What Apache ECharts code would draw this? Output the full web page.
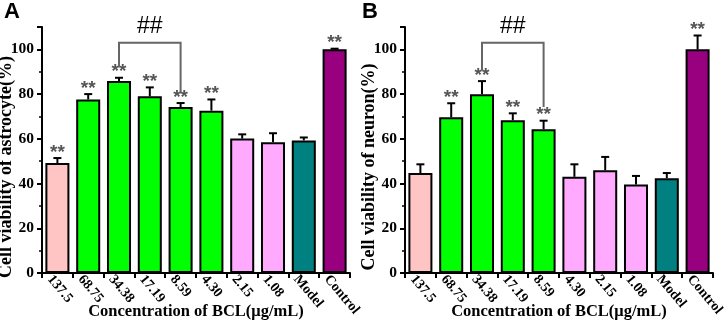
<!DOCTYPE html>
<html>
<head>
<meta charset="utf-8">
<script src="https://cdn.jsdelivr.net/npm/echarts@6/dist/echarts.min.js"></script>
<style>
  html, body { margin: 0; padding: 0; background: #fff; }
  #main { width: 726px; height: 325px; }
</style>
</head>
<body>
<div id="main"></div>
<script>
// categories (x axis)
var categories = ['137.5', '68.75', '34.38', '17.19', '8.59', '4.30', '2.15', '1.08', 'Model', 'Control'];

// panel A - astrocyte
var astroMean = [49.2, 77.6, 85.8, 79, 74.2, 72.6, 60.1, 58.5, 59.3, 100];
var astroErr  = [51.4, 80, 87.3, 83, 76, 77.6, 62, 62.5, 60.6, 100.3];
var astroStar = [1, 1, 1, 1, 1, 1, 0, 0, 0, 1];
var astroColors = ['#ffc4c4', '#00ff00', '#00ff00', '#00ff00', '#00ff00', '#00ff00', '#ffaaff', '#ffaaff', '#008080', '#990080'];
// bracket: [from, to, top, leftEnd, rightEnd]
var astroBracket = [2, 4, 103, 92, 80.4];

// panel B - neuron
var neuronMean = [44.7, 69.6, 79.9, 68.3, 64.3, 43, 45.9, 39.6, 42.4, 100];
var neuronErr  = [48.6, 75.9, 85.8, 71.4, 68.1, 48.6, 51.9, 43.4, 44.7, 106.2];
var neuronStar = [0, 1, 1, 1, 1, 0, 0, 0, 0, 1];
var neuronColors = ['#ffc4c4', '#00ff00', '#00ff00', '#00ff00', '#00ff00', '#ffaaff', '#ffaaff', '#ffaaff', '#008080', '#990080'];
var neuronBracket = [2, 4, 103, 90.6, 74.2];

var serif = '"Liberation Serif", "DejaVu Serif", serif';
var sans = '"Liberation Sans", Arial, sans-serif';

var chart = echarts.init(document.getElementById('main'));

function errRender(params, api) {
    var x = api.value(0), v = api.value(1), e = api.value(2), s = api.value(3);
    var p0 = api.coord([x, v]);
    var p1 = api.coord([x, e]);
    var kids = [
        {type: 'line', shape: {x1: p0[0], y1: p0[1], x2: p1[0], y2: p1[1]}, style: {stroke: '#000', lineWidth: 2}},
        {type: 'line', shape: {x1: p1[0] - 4, y1: p1[1], x2: p1[0] + 4, y2: p1[1]}, style: {stroke: '#000', lineWidth: 2}}
    ];
    if (s) {
        kids.push({type: 'text', style: {text: '**', x: p1[0], y: p1[1] + 4, align: 'center', verticalAlign: 'bottom',
            fill: '#555', font: 'bold 19px ' + sans}});
    }
    return {type: 'group', children: kids};
}

function bracketRender(params, api) {
    var a = api.value(0), b = api.value(1), top = api.value(2), l = api.value(3), r = api.value(4);
    var pl = api.coord([a, l]), plt = api.coord([a, top]);
    var prt = api.coord([b, top]), pr = api.coord([b, r]);
    var lbl = api.coord([a, 110]);
    return {type: 'group', children: [
        {type: 'polyline', shape: {points: [pl, plt, prt, pr]}, style: {stroke: '#666', lineWidth: 2, fill: null}},
        {type: 'text', style: {text: '##', x: (plt[0] + prt[0]) / 2, y: lbl[1], align: 'center', verticalAlign: 'middle',
            fill: '#000', font: '23px ' + sans}}
    ]};
}

function makeX(idx, name) {
    return {
        type: 'category', gridIndex: idx, data: categories,
        name: name, nameLocation: 'middle', nameGap: 30, nameMoveOverlap: false,
        nameTextStyle: {fontFamily: serif, fontWeight: 'bold', fontSize: 16.5, color: '#000'},
        axisLine: {lineStyle: {color: '#000', width: 2}},
        axisTick: {show: true, length: 5, lineStyle: {color: '#000', width: 2}},
        axisLabel: {rotate: -50, margin: 13, padding: [0, 0, 0, -12], interval: 0,
            fontFamily: serif, fontWeight: 'bold', fontSize: 14, color: '#000'}
    };
}

function makeY(idx, name) {
    return {
        type: 'value', gridIndex: idx, min: 0, max: 110, interval: 20,
        name: name, nameLocation: 'middle', nameGap: 27, nameMoveOverlap: false,
        nameTextStyle: {fontFamily: serif, fontWeight: 'bold', fontSize: 18, color: '#000', padding: [0, 34, 0, 0]},
        axisLine: {show: true, lineStyle: {color: '#000', width: 2}},
        axisTick: {show: true, length: 5, lineStyle: {color: '#000', width: 2}},
        minorTick: {show: true, splitNumber: 2, length: 3, lineStyle: {color: '#000', width: 1.5}},
        splitLine: {show: false},
        axisLabel: {margin: 8, showMaxLabel: false, fontFamily: serif, fontWeight: 'bold', fontSize: 15.5, color: '#000'}
    };
}

function barData(vals, colors) {
    return vals.map(function (v, i) { return {value: v, itemStyle: {color: colors[i]}}; });
}

function errData(vals, errs, stars) {
    return vals.map(function (v, i) { return [i, v, errs[i], stars[i]]; });
}

var option = {
    animation: false,
    backgroundColor: '#fff',
    graphic: [
        {type: 'text', left: 4, top: 1, style: {text: 'A', font: 'bold 22px ' + sans, fill: '#000'}},
        {type: 'text', left: 362, top: 1, style: {text: 'B', font: 'bold 22px ' + sans, fill: '#000'}}
    ],
    grid: [
        {left: 42, right: 376, top: 27, bottom: 52, outerBoundsMode: 'none'},
        {left: 405, right: 13, top: 27, bottom: 52, outerBoundsMode: 'none'}
    ],
    xAxis: [makeX(0, 'Concentration of BCL(μg/mL)'), makeX(1, 'Concentration of BCL(μg/mL)')],
    yAxis: [makeY(0, 'Cell viability of astrocyte(%)'), makeY(1, 'Cell viability of neuron(%)')],
    series: [
        {type: 'bar', xAxisIndex: 0, yAxisIndex: 0, barWidth: '78%', data: barData(astroMean, astroColors),
            itemStyle: {borderColor: '#000', borderWidth: 2}},
        {type: 'custom', xAxisIndex: 0, yAxisIndex: 0, renderItem: errRender, data: errData(astroMean, astroErr, astroStar), z: 5},
        {type: 'custom', xAxisIndex: 0, yAxisIndex: 0, renderItem: bracketRender, data: [astroBracket], z: 5},
        {type: 'bar', xAxisIndex: 1, yAxisIndex: 1, barWidth: '78%', data: barData(neuronMean, neuronColors),
            itemStyle: {borderColor: '#000', borderWidth: 2}},
        {type: 'custom', xAxisIndex: 1, yAxisIndex: 1, renderItem: errRender, data: errData(neuronMean, neuronErr, neuronStar), z: 5},
        {type: 'custom', xAxisIndex: 1, yAxisIndex: 1, renderItem: bracketRender, data: [neuronBracket], z: 5}
    ]
};
chart.setOption(option);
</script>
</body>
</html>
